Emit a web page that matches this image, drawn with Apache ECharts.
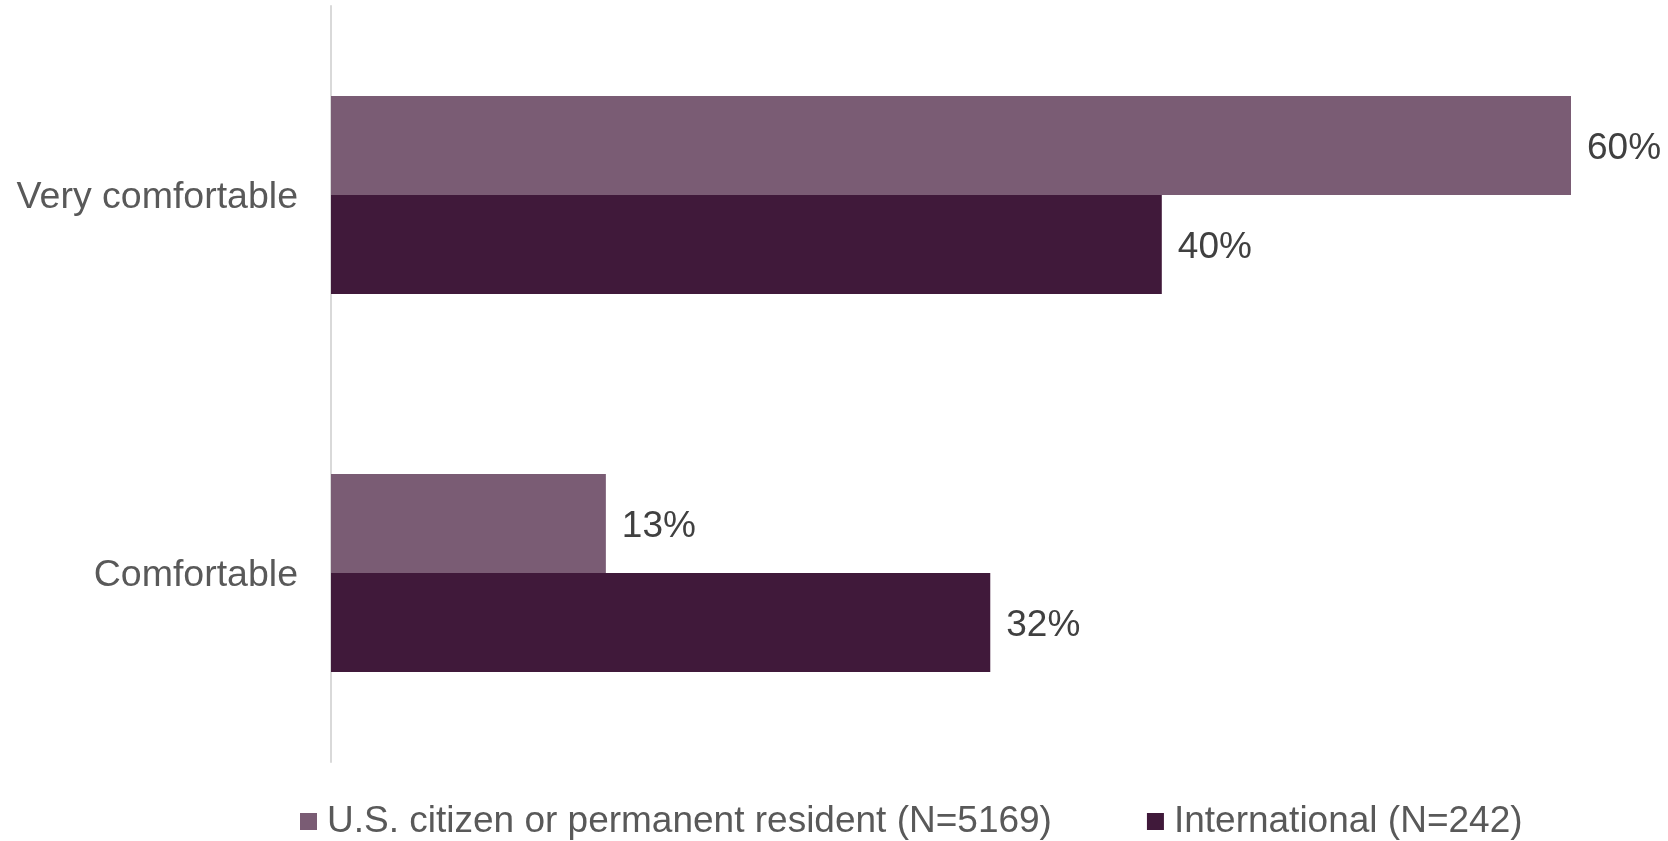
<!DOCTYPE html>
<html>
<head>
<meta charset="utf-8">
<script src="https://cdn.jsdelivr.net/npm/echarts@6/dist/echarts.min.js"></script>
<style>
html,body{margin:0;padding:0;background:#fff;}
#chart{width:1668px;height:841px;}
</style>
</head>
<body>
<div id="chart"></div>
<script>
var categories = ['Very comfortable', 'Comfortable'];
var seriesNames = ['U.S. citizen or permanent resident (N=5169)', 'International (N=242)'];
var usValues = [60.0, 13.3];
var intlValues = [40.2, 31.9];
var colors = ['#7a5c74', '#40193a'];

var chart = echarts.init(document.getElementById('chart'));
var font = '"Liberation Sans", Arial, sans-serif';
function mkSeries(name, data, color) {
  return {
    name: name,
    type: 'bar',
    data: data,
    barWidth: 99,
    barGap: '0%',
    itemStyle: { color: color },
    label: {
      show: true,
      position: 'right',
      distance: 16,
      offset: [0, 3],
      formatter: function (p) { return Math.round(p.value) + '%'; },
      fontSize: 37,
      fontFamily: font,
      color: '#404040'
    }
  };
}
chart.setOption({
  animation: false,
  backgroundColor: '#ffffff',
  grid: { left: 331, right: 97, top: 6, bottom: 79, containLabel: false },
  xAxis: {
    type: 'value', min: 0, max: 60,
    show: false
  },
  yAxis: {
    type: 'category',
    data: categories,
    inverse: true,
    axisLine: { show: true, lineStyle: { color: '#d9d9d9', width: 2 } },
    axisTick: { show: false },
    axisLabel: {
      margin: 33,
      formatter: function (v) { return '{a|' + v + '}'; },
      rich: { a: { fontSize: 37.5, fontFamily: font, color: '#595959', padding: [6, 0, 0, 0] } }
    }
  },
  legend: {
    data: seriesNames,
    left: 295,
    top: 798,
    itemWidth: 17,
    itemHeight: 17,
    itemGap: 95,
    icon: 'rect',
    textStyle: { fontSize: 37, fontFamily: font, color: '#595959', padding: [0, 0, 0, 5] }
  },
  series: [
    mkSeries(seriesNames[0], usValues, colors[0]),
    mkSeries(seriesNames[1], intlValues, colors[1])
  ]
});
</script>
</body>
</html>
